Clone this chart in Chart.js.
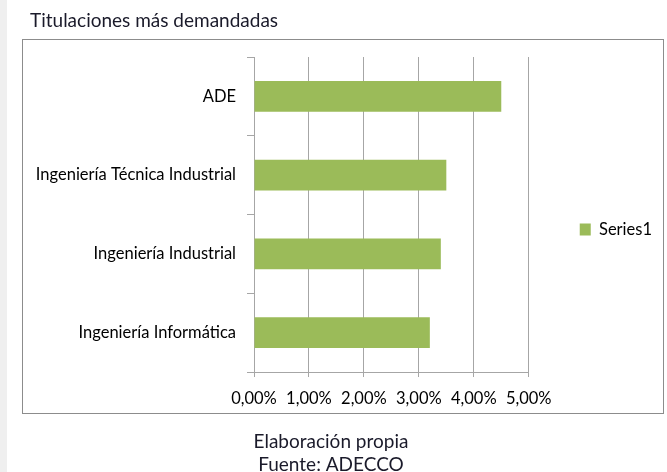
<!DOCTYPE html>
<html>
<head>
<meta charset="utf-8">
<script src="https://cdn.jsdelivr.net/npm/chart.js@4"></script>
<style>
  body { margin: 0; background: #fff; }
  canvas { display: block; }
</style>
</head>
<body>
<canvas id="grafico" width="667" height="472"></canvas>
<script>
const categorias = ['ADE', 'Ingeniería Técnica Industrial', 'Ingeniería Industrial', 'Ingeniería Informática'];
const valores = [0.045, 0.035, 0.034, 0.032];
const etiquetasX = ['0,00%', '1,00%', '2,00%', '3,00%', '4,00%', '5,00%'];

const fuente = 'Lato, "Open Sans", sans-serif';
const gris = '#a6a6a6';

// marco del gráfico y franja gris de la izquierda
const marco = {
    id: 'marco',
    afterLayout(chart) {
        // el pie va centrado en la página, no en el área del gráfico
        const pie = chart.boxes.find(b => b.options && Array.isArray(b.options.text));
        if (pie) {
            pie.left -= 15;
            pie.right -= 15;
        }
    },
    beforeDraw(chart) {
        const c = chart.ctx;
        c.save();
        c.fillStyle = '#efefef';
        c.fillRect(0, 0, 7, chart.height);
        c.strokeStyle = '#8c8c8c';
        c.lineWidth = 1;
        c.strokeRect(22.5, 39.5, 641, 374);
        c.restore();
    }
};

const ctx = document.getElementById('grafico');

new Chart(ctx, {
    type: 'bar',
    data: {
        labels: categorias,
        datasets: [{
            label: 'Series1',
            data: valores,
            backgroundColor: '#9bbb59',
            borderWidth: 0,
            categoryPercentage: 1,
            barPercentage: 0.39
        }]
    },
    options: {
        indexAxis: 'y',
        responsive: false,
        animation: false,
        layout: {
            padding: { left: 30, right: 5, top: 0, bottom: 13 }
        },
        scales: {
            x: {
                min: 0,
                max: 0.05,
                ticks: {
                    stepSize: 0.01,
                    padding: 12,
                    color: '#000',
                    font: { family: fuente, size: 16.5 },
                    callback: (v, i) => etiquetasX[i]
                },
                grid: { color: gris, tickLength: 5 },
                border: { color: gris }
            },
            y: {
                ticks: {
                    padding: 11,
                    color: '#000',
                    font: { family: fuente, size: 16.5 }
                },
                grid: { drawOnChartArea: false, color: gris, tickLength: 7 },
                border: { color: gris },
                afterFit(scale) { scale.width = 224; }
            }
        },
        plugins: {
            title: {
                display: true,
                text: 'Titulaciones más demandadas',
                align: 'start',
                color: '#1a1a2a',
                font: { family: fuente, size: 19, weight: 'normal', lineHeight: 1.2 },
                padding: { top: 9, bottom: 25.2 }
            },
            subtitle: {
                display: true,
                position: 'bottom',
                text: ['Elaboración propia', 'Fuente: ADECCO'],
                color: '#1a1a2a',
                font: { family: fuente, size: 19, lineHeight: 1.21 },
                padding: { top: 9.7, bottom: -17.5 }
            },
            legend: {
                position: 'right',
                labels: {
                    padding: 51,
                    boxWidth: 11,
                    boxHeight: 12,
                    color: '#000',
                    font: { family: fuente, size: 16.5 }
                }
            },
            tooltip: { enabled: false }
        }
    },
    plugins: [marco]
});
</script>
</body>
</html>
